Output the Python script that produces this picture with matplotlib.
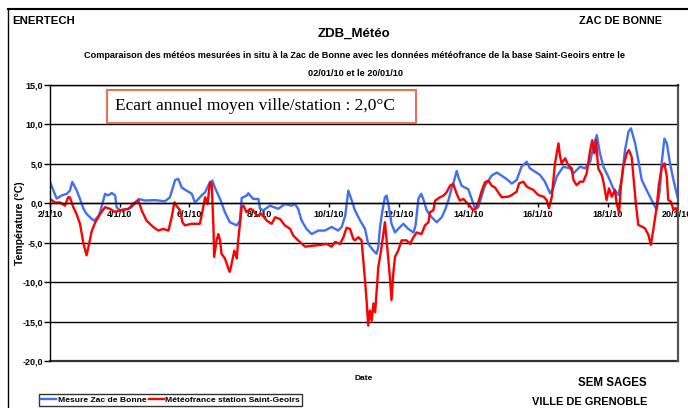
import matplotlib
matplotlib.use("Agg")
import matplotlib.pyplot as plt
from matplotlib.patches import Rectangle
from matplotlib.lines import Line2D
import matplotlib.font_manager as fm

# ---------------- data ----------------
blue_days = [2.00, 2.10, 2.19, 2.34, 2.48, 2.57, 2.64, 2.77, 2.86, 2.96, 3.05, 3.20, 3.27, 3.39, 3.44,
             3.58, 3.67, 3.77, 3.87, 3.91, 4.01, 4.25, 4.34, 4.54, 4.73, 5.01, 5.30, 5.44, 5.59, 5.68,
             5.78, 5.92, 6.07, 6.16, 6.26, 6.35, 6.45, 6.59, 6.66, 6.73, 6.88, 7.02, 7.16, 7.36, 7.45,
             7.50, 7.64, 7.69, 7.83, 7.98, 8.03, 8.12, 8.31, 8.55, 8.74, 8.93, 9.03, 9.12, 9.22, 9.36,
             9.51, 9.70, 9.89, 10.08, 10.27, 10.37, 10.47, 10.56, 10.66, 10.75, 10.90, 11.04, 11.13,
             11.28, 11.37, 11.42, 11.47, 11.54, 11.61, 11.66, 11.71, 11.80, 11.90, 11.99, 12.14, 12.28,
             12.43, 12.49, 12.57, 12.65, 12.71, 12.81, 12.95, 13.10, 13.24, 13.33, 13.43, 13.53, 13.57,
             13.67, 13.72, 13.81, 13.90, 14.00, 14.10, 14.20, 14.29, 14.39, 14.48, 14.58, 14.67, 14.82,
             14.96, 15.10, 15.25, 15.39, 15.53, 15.68, 15.77, 15.92, 16.06, 16.20, 16.35, 16.44, 16.54,
             16.63, 16.73, 16.92, 17.02, 17.11, 17.21, 17.35, 17.50, 17.59, 17.69, 17.78, 17.88, 18.02,
             18.16, 18.31, 18.40, 18.50, 18.60, 18.67, 18.79, 18.88, 18.98, 19.12, 19.26, 19.41, 19.50,
             19.55, 19.63, 19.70, 19.79, 19.89, 19.98, 20.03]
blue_temp = [2.7, 1.6, 0.6, 1.0, 1.2, 1.6, 2.7, 1.6, 0.55, -0.7, -1.35, -2.0, -2.2, -1.6, -1.1,
             1.2, 1.0, 1.3, 1.0, -0.5, -0.9, -0.7, -0.5, 0.55, 0.35, 0.4, 0.25, 0.75, 2.95, 3.1,
             2.0, 1.6, 1.2, 0.1, 0.55, 1.0, 1.4, 2.66, 2.87, 2.0, 0.55, -1.14, -2.4, -2.8, -2.2,
             0.67, 0.97, 1.27, 0.55, 0.55, -0.7, -0.9, -0.3, -0.7, -0.1, -0.3, -0.1, -0.7, -2.2, -3.25,
             -3.9, -3.46, -3.46, -3.0, -3.46, -3.0, -1.6, 1.6, 0.34, -0.9, -2.2, -3.25, -5.15,
             -6.0, -6.4, -5.6, -3.0, -0.9, 0.76, 0.97, -0.1, -2.6, -3.7, -3.25, -2.6, -3.25,
             -3.7, -2.8, 0.55, 1.2, 0.55, -0.9, -1.77, -2.4, -1.77, -0.9, 0.34, 2.0, 2.45,
             4.1, 3.3, 2.24, 2.0, 1.8, 0.55, -0.7, -0.5, 0.97, 2.24, 2.87, 3.5, 3.9,
             3.5, 3.08, 2.5, 2.95, 4.64, 5.27, 4.43, 4.0, 3.6, 2.74, 1.27, 1.9, 3.38,
             4.0, 4.64, 4.43, 3.8, 4.2, 4.64, 4.43, 5.27, 7.17, 8.65, 6.33, 4.64, 3.38,
             1.9, 1.05, 2.95, 6.75, 9.07, 9.5, 7.6, 5.5, 2.95, 1.7, 0.42, -0.84, 1.7,
             5.06, 8.2, 7.6, 5.06, 2.95, 1.27, 0.42]

red_days = [2.00, 2.14, 2.29, 2.43, 2.52, 2.57, 2.67, 2.76, 2.86, 2.96, 3.00, 3.05, 3.10, 3.20, 3.30,
            3.44, 3.58, 3.72, 3.86, 4.00, 4.25, 4.44, 4.54, 4.63, 4.77, 4.96, 5.11, 5.25, 5.40, 5.49,
            5.57, 5.63, 5.73, 5.80, 5.87, 6.06, 6.20, 6.30, 6.35, 6.45, 6.52, 6.59, 6.64, 6.69, 6.71,
            6.78, 6.83, 6.88, 6.92, 7.02, 7.12, 7.16, 7.21, 7.29, 7.36, 7.40, 7.50, 7.55, 7.64, 7.74,
            7.83, 7.93, 8.07, 8.22, 8.36, 8.46, 8.60, 8.74, 8.89, 8.98, 9.12, 9.32, 9.51, 9.70, 9.94,
            10.08, 10.18, 10.32, 10.42, 10.51, 10.61, 10.70, 10.75, 10.85, 10.94, 11.04, 11.09, 11.13,
            11.18, 11.23, 11.28, 11.33, 11.37, 11.42, 11.50, 11.57, 11.61, 11.66, 11.71, 11.76, 11.80,
            11.85, 11.90, 11.99, 12.09, 12.23, 12.33, 12.43, 12.52, 12.66, 12.76, 12.86, 12.90, 13.00,
            13.05, 13.19, 13.29, 13.38, 13.48, 13.57, 13.67, 13.76, 13.86, 14.00, 14.15, 14.21, 14.29,
            14.39, 14.48, 14.58, 14.67, 14.77, 14.86, 14.96, 15.15, 15.25, 15.39, 15.46, 15.58, 15.68,
            15.77, 15.87, 16.01, 16.16, 16.25, 16.32, 16.40, 16.49, 16.54, 16.59, 16.63, 16.68, 16.78,
            16.87, 16.97, 17.02, 17.11, 17.21, 17.30, 17.40, 17.50, 17.56, 17.62, 17.67, 17.73, 17.83,
            17.88, 17.97, 18.04, 18.12, 18.21, 18.26, 18.33, 18.38, 18.45, 18.55, 18.61, 18.69, 18.74,
            18.81, 18.88, 18.98, 19.07, 19.17, 19.24, 19.31, 19.41, 19.47, 19.55, 19.63, 19.70, 19.74,
            19.82, 19.89, 19.95, 20.03]
red_temp = [0.55, 0.1, 0.1, -0.3, 0.76, 0.76, -0.5, -1.35, -2.6, -5.1, -5.8, -6.6, -5.6, -3.5, -2.4,
            -1.35, -0.5, -0.7, -1.1, -0.9, -0.7, 0.13, 0.34, -0.9, -2.2, -3.0, -3.46, -3.25, -3.46, -1.77,
            0.13, -0.3, -0.9, -2.4, -2.8, -2.6, -2.6, -2.6, -1.56, 0.76, -0.1, 2.66, 2.45, -3.0, -6.8,
            -4.7, -3.9, -4.7, -6.4, -7.0, -8.3, -8.7, -7.7, -6.0, -7.0, -4.7, -0.5, -0.3, -1.14, -0.7,
            -0.9, -1.56, -1.35, -2.2, -2.6, -1.77, -2.0, -2.8, -3.25, -4.1, -4.7, -5.5, -5.4, -5.3, -5.15,
            -5.5, -4.9, -5.15, -4.3, -3.1, -3.25, -4.5, -4.7, -4.3, -4.7, -9.8, -12.7, -15.5,
            -13.6, -14.9, -12.7, -13.8, -11.3, -8.1, -6.0, -3.7, -2.4, -4.7, -7.3, -9.8, -12.3,
            -8.9, -6.8, -6.0, -4.7, -4.7, -5.15, -4.3, -3.7, -3.9, -2.8, -2.4, -1.14, -0.9,
            0.34, 0.76, 0.97, 1.4, 2.24, 2.45, 1.2, 0.34, 0.55, -0.1, -0.9, -0.7, 0.13,
            1.6, 2.66, 2.87, 2.24, 2.0, 1.4, 0.76, 0.84, 1.05, 1.48, 2.53, 2.74, 2.1,
            1.9, 1.7, 1.05, 0.84, 0.42, -0.63, 0.84, 5.06, 6.33, 7.6, 6.1, 5.06, 5.7,
            4.85, 4.43, 2.95, 2.3, 2.74, 2.74, 3.8, 6.75, 8.0, 6.33, 8.0, 4.43, 3.6,
            2.74, 0.42, 1.9, 0.84, 1.7, 0.0, -1.27, 2.1, 4.64, 6.33, 6.75, 5.9, 3.38,
            0.0, -2.74, -2.95, -3.16, -4.0, -5.27, -3.38, -0.42, 2.3, 4.43, 5.06, 3.38, 0.42,
            0.2, -0.84, -0.6, -1.27]

x_ticks = [2, 4, 6, 8, 10, 12, 14, 16, 18, 20]
x_tick_labels = ["2/1/10", "4/1/10", "6/1/10", "8/1/10", "10/1/10", "12/1/10",
                 "14/1/10", "16/1/10", "18/1/10", "20/1/10"]
y_ticks = [15, 10, 5, 0, -5, -10, -15, -20]
y_tick_labels = ["15,0", "10,0", "5,0", "0,0", "-5,0", "-10,0", "-15,0", "-20,0"]
series_names = ["Mesure Zac de Bonne", "Météofrance station Saint-Geoirs"]

# ---------------- style ----------------
names = {f.name for f in fm.fontManager.ttflist}
NARROW = "Liberation Sans Narrow" if "Liberation Sans Narrow" in names else "Liberation Sans"
SANS = [NARROW, "DejaVu Sans"]
SERIF = ["Liberation Serif", "DejaVu Serif"]
BLUE = "#3f6ff5"
RED = "#ff0000"

W, H = 688, 408
fig = plt.figure(figsize=(W / 100, H / 100), dpi=100)

def fx(px):
    return px / W

def fy(py):
    return 1 - py / H

ax = fig.add_axes([fx(50), fy(361), fx(678) - fx(50), (361 - 85) / H])
ax.plot(blue_days, blue_temp, color=BLUE, lw=1.7, label=series_names[0], solid_joinstyle="round")
ax.plot(red_days, red_temp, color=RED, lw=1.7, label=series_names[1], solid_joinstyle="round")

ax.spines["bottom"].set_position(("data", 0))
ax.set_xlim(2, 20.02)
ax.set_ylim(-20, 15)
ax.set_yticks(y_ticks)
ax.set_yticklabels(y_tick_labels, fontfamily=SANS, fontweight="bold", fontsize=6.5)
ax.set_xticks(x_ticks)
ax.set_xticklabels(x_tick_labels, fontfamily=SANS, fontweight="bold", fontsize=6.5)
ax.yaxis.grid(True, color="black", lw=1.0)
ax.set_axisbelow(True)
ax.spines["bottom"].set_linewidth(1.0)
for s in ["left", "top"]:
    ax.spines[s].set_linewidth(1.0)
ax.spines["right"].set_linewidth(1.6)
ax.spines["right"].set_color("#555555")
ax.axhline(-20, color="#333333", lw=1.6, clip_on=False)
ax.tick_params(axis="y", direction="out", length=4, width=1, pad=1)
ax.tick_params(axis="x", direction="out", length=3, width=1, pad=1.5)

# frame lines
fig.add_artist(Line2D([fx(8), fx(688)], [fy(9), fy(9)], color="black", lw=1.5))
fig.add_artist(Line2D([fx(8), fx(8)], [fy(9), fy(408)], color="black", lw=1.0))

bold = dict(fontfamily=SANS, fontweight="bold")
fig.text(fx(12), fy(21.5), "ENERTECH", ha="left", va="center", fontsize=8.2, **bold)
fig.text(fx(662), fy(21), "ZAC DE BONNE", ha="right", va="center", fontsize=7.8, **bold)
fig.text(fx(354), fy(34), "ZDB_Météo", ha="center", va="center", fontsize=9.5, **bold)
fig.text(fx(354.5), fy(55), "Comparaison des météos mesurées in situ à la Zac de Bonne avec les données "
         "météofrance de la base Saint-Geoirs entre le", ha="center", va="center", fontsize=6.6, **bold)
fig.text(fx(355), fy(73), "02/01/10 et le 20/01/10", ha="center", va="center", fontsize=6.6, **bold)
fig.text(fx(20), fy(223), "Température (°C)", rotation=90, ha="center", va="center", fontsize=7.5, **bold)
fig.text(fx(364), fy(379), "Date", ha="center", va="center", fontsize=6, **bold)
fig.text(fx(647), fy(383), "SEM SAGES", ha="right", va="center", fontsize=8.3, **bold)
fig.text(fx(647), fy(402), "VILLE DE GRENOBLE", ha="right", va="center", fontsize=7.9, **bold)

# annotation box
fig.add_artist(Rectangle((fx(107), fy(122.5)), fx(416) - fx(107), (122.5 - 90) / H,
                         transform=fig.transFigure, facecolor="white", edgecolor="#f26a4f", lw=1.4))
fig.text(fx(115), fy(106.5), "Ecart annuel moyen ville/station : 2,0°C", ha="left", va="center",
         fontfamily=SERIF, fontsize=12.5)

# legend
leg = fig.legend(loc="upper left", bbox_to_anchor=(fx(39), fy(394)), ncol=2, frameon=True,
                 fancybox=False, edgecolor="black", handlelength=1.8, handletextpad=0.15,
                 columnspacing=0.3, borderpad=0.25, borderaxespad=0,
                 prop=dict(family=SANS, weight="bold", size=6.1))
leg.get_frame().set_linewidth(1.0)

fig.savefig("out.png", dpi=100)
